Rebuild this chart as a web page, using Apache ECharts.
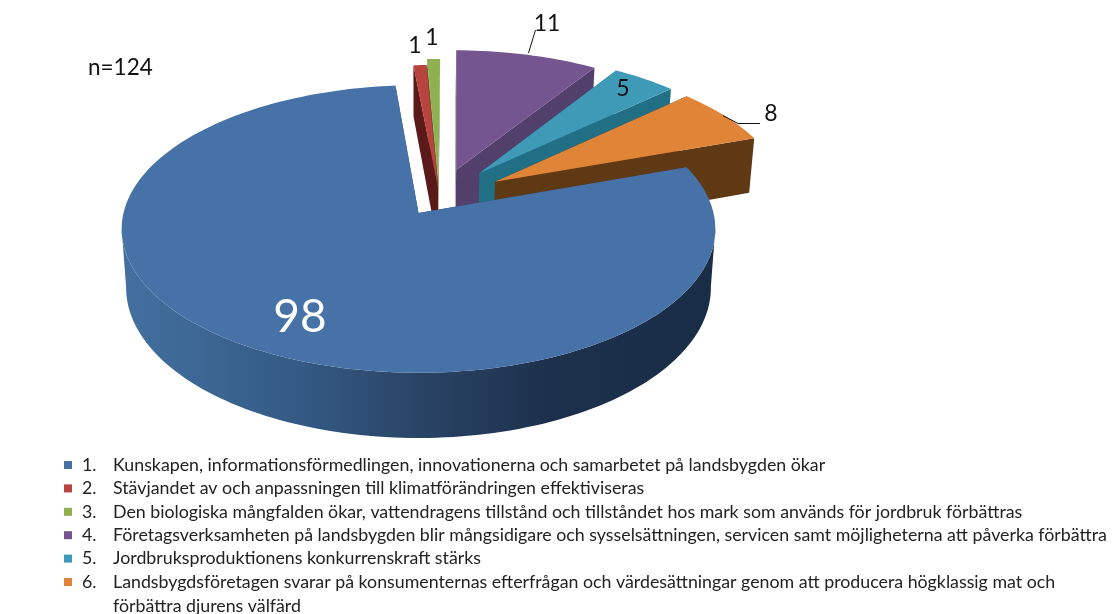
<!DOCTYPE html>
<html>
<head>
<meta charset="utf-8">
<style>
  html, body { margin: 0; padding: 0; background: #fff; }
  #chart { width: 1113px; height: 614px; }
</style>
<script src="https://cdn.jsdelivr.net/npm/echarts@6/dist/echarts.min.js"></script>
</head>
<body>
<div id="chart"></div>
<script>
const categories = [
  'Kunskapen, informationsförmedlingen, innovationerna och samarbetet på landsbygden ökar',
  'Stävjandet av och anpassningen till klimatförändringen effektiviseras',
  'Den biologiska mångfalden ökar, vattendragens tillstånd och tillståndet hos mark som används för jordbruk förbättras',
  'Företagsverksamheten på landsbygden blir mångsidigare och sysselsättningen, servicen samt möjligheterna att påverka förbättra',
  'Jordbruksproduktionens konkurrenskraft stärks',
  'Landsbygdsföretagen svarar på konsumenternas efterfrågan och värdesättningar genom att producera högklassig mat och'
];
const legendWrap = 'förbättra djurens välfärd';
const values = [98, 1, 1, 11, 5, 8];
const sampleNote = 'n=124';

const faceColors = ['#4672a8', '#b8433f', '#8fb050', '#74558f', '#3f9ab8', '#e08438'];
const wallColors = ['#2f4f78', '#5a1a1a', '#5d7433', '#523f6c', '#216f84', '#5f3814'];
// how far each slice is pulled out of the pie, in disc units
const explode = [[0, 0], [0.0675, -0.18], [0.069, -0.2335], [0.132, -0.3135], [0.213, -0.289], [0.266, -0.2256]];
// back to front
const drawOrder = [2, 1, 3, 4, 5, 0];
const labelPos = [[300, 317], [415, 46], [432, 38], [547, 24], [623, 89], [771, 114]];
const labelLeaders = [null, null, null, [[528.5, 53], [535.5, 30]], null, [[723, 115.5], [738, 123.5], [760, 123.5]]];

// projection of the tilted disc
const cx = 418.5, cy = 213, rx = 295, ry = 142, persp = 0.111, depth = 58;
const startAngle = 70.5;

function project(u, v) {
  const s = 1 / (1 - persp * v);
  return [cx + rx * u * s, cy + ry * v * s, s];
}
function lower(p) {
  return [cx + (p[0] - cx) * 0.985, p[1] + depth * p[2]];
}
function slicePoint(off, angle, r) {
  const a = angle * Math.PI / 180;
  return project(off[0] + r * Math.sin(a), off[1] - r * Math.cos(a));
}

function makeRenderItem(idx, from) {
  return function (params, api) {
    const total = values.reduce((a, b) => a + b, 0);
    const val = api.value(0);
    const to = from + val / total * 360;
    const off = explode[idx];
    const apex = slicePoint(off, 0, 0);
    const arc = [];
    const steps = Math.max(4, Math.ceil((to - from) / 1.5));
    for (let i = 0; i <= steps; i++) {
      arc.push(slicePoint(off, from + (to - from) * i / steps, 1));
    }
    const arcLow = arc.map(lower);
    const flat = p => [p[0], p[1]];
    const children = [];

    // outer wall only between the rightmost and leftmost point of the rim
    let right = 0, left = 0;
    arc.forEach((p, i) => {
      if (p[0] > arc[right][0]) right = i;
      if (p[0] < arc[left][0]) left = i;
    });
    if (right < left) {
      const front = arc.slice(right, left + 1).map(flat);
      const frontLow = arcLow.slice(right, left + 1).reverse();
      children.push({
        type: 'polygon',
        shape: { points: front.concat(frontLow) },
        style: {
          fill: idx === 0
            ? new echarts.graphic.LinearGradient(0, 0, 1, 0, [
                { offset: 0, color: '#43709f' },
                { offset: 0.3, color: '#345a85' },
                { offset: 0.5, color: '#2a4466' },
                { offset: 0.72, color: '#1c304c' },
                { offset: 1, color: '#1a2d47' }
              ])
            : wallColors[idx]
        }
      });
    }
    children.push(
      {
        type: 'polygon',
        shape: { points: [flat(apex), flat(arc[0]), arcLow[0], lower(apex)] },
        style: { fill: wallColors[idx] }
      },
      {
        type: 'polygon',
        shape: { points: [flat(apex), flat(arc[steps]), arcLow[steps], lower(apex)] },
        style: { fill: wallColors[idx] }
      },
      {
        type: 'polygon',
        shape: { points: [flat(apex)].concat(arc.map(flat)) },
        style: { fill: faceColors[idx] }
      }
    );
    if (labelLeaders[idx]) {
      children.push({
        type: 'polyline',
        shape: { points: labelLeaders[idx] },
        style: { stroke: '#111', lineWidth: 1, fill: 'none' }
      });
    }
    children.push({
      type: 'text',
      style: {
        text: String(val),
        x: labelPos[idx][0],
        y: labelPos[idx][1],
        align: 'center',
        verticalAlign: 'middle',
        fill: idx === 0 ? '#fff' : '#111',
        font: (idx === 0 ? '46px' : '23px') + ' Lato'
      }
    });
    return { type: 'group', children: children };
  };
}

const total = values.reduce((a, b) => a + b, 0);
const starts = [];
values.reduce((acc, v, i) => {
  starts[i] = acc;
  return acc + v / total * 360;
}, startAngle);

const chart = echarts.init(document.getElementById('chart'));
chart.setOption({
  animation: false,
  backgroundColor: '#fff',
  legend: {
    orient: 'vertical',
    left: 64,
    top: 456,
    padding: 0,
    icon: 'rect',
    itemWidth: 8,
    itemHeight: 8,
    itemGap: 5.4,
    selectedMode: false,
    data: categories,
    formatter: name => `{n|${categories.indexOf(name) + 1}.}{t|${name}}`,
    textStyle: {
      fontSize: 17.8,
      rich: {
        n: { width: 31, padding: [0, 0, 0, 5], fontFamily: 'Lato', fontSize: 17.8, lineHeight: 18, color: '#222' },
        t: { fontFamily: 'Lato', fontSize: 17.8, lineHeight: 18, color: '#222' }
      }
    }
  },
  graphic: [
    {
      type: 'text',
      left: 88,
      top: 56,
      style: { text: sampleNote, font: '22.5px Lato', fill: '#111' }
    },
    {
      type: 'text',
      left: 113,
      top: 597,
      style: { text: legendWrap, font: '17.8px Lato', fill: '#222' }
    }
  ],
  series: drawOrder.map((idx, order) => ({
    type: 'custom',
    name: categories[idx],
    coordinateSystem: 'none',
    z: 2 + order,
    itemStyle: { color: faceColors[idx] },
    data: [[values[idx]]],
    renderItem: makeRenderItem(idx, starts[idx])
  }))
});

window.addEventListener('resize', () => chart.resize());
</script>
</body>
</html>
